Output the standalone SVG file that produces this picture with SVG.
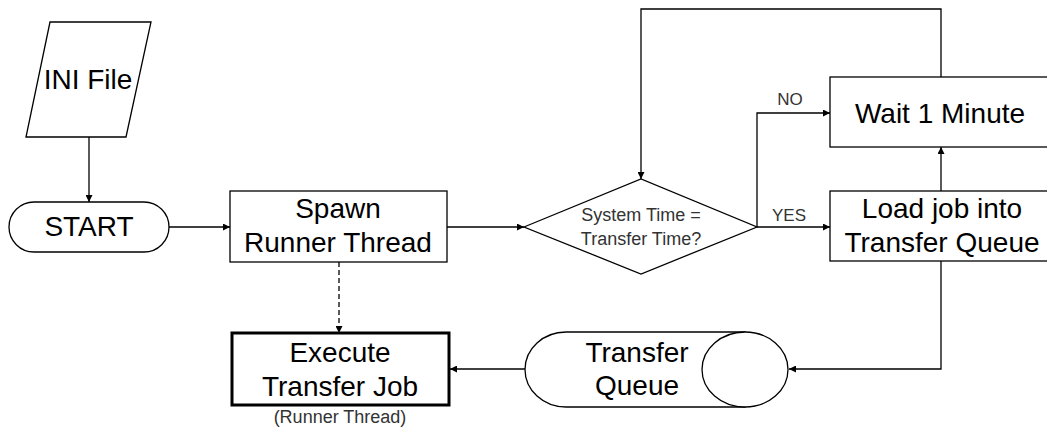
<svg xmlns="http://www.w3.org/2000/svg" width="1047" height="434" viewBox="0 0 1047 434">
<defs>
<marker id="ah" viewBox="0 0 10 10" refX="10" refY="5" markerWidth="9" markerHeight="7" markerUnits="userSpaceOnUse" orient="auto">
<path d="M0,0 L10,5 L0,10 Z" fill="#000"/>
</marker>
</defs>
<style>
.shape{fill:#fff;stroke:#000;stroke-width:1.3}
.big{font-family:"Liberation Sans",Arial,sans-serif;font-size:28px;fill:#000;text-anchor:middle}
.small{font-family:"Liberation Sans",Arial,sans-serif;font-size:18px;fill:#333;text-anchor:middle}
.lbl{font-family:"Liberation Sans",Arial,sans-serif;font-size:17px;fill:#333;text-anchor:middle}
.conn{fill:none;stroke:#000;stroke-width:1.3;marker-end:url(#ah)}
</style>
<rect width="1047" height="434" fill="#fff"/>
<g id="connectors">
<path class="conn" d="M89,137 V202"/>
<path class="conn" d="M169,227 H230"/>
<path class="conn" d="M447,227 H524"/>
<path class="conn" stroke-dasharray="5,3" d="M339,262 V333"/>
<path class="conn" d="M757,227 H830"/>
<path class="conn" d="M757,227 V113 H830"/>
<path class="conn" d="M941,77 V9 H641 V179"/>
<path class="conn" d="M941,191 V147"/>
<path class="conn" d="M941,261 V369 H789"/>
<path class="conn" d="M525,369 H450"/>
<text class="lbl" x="790" y="105">NO</text>
<text class="lbl" x="789" y="221">YES</text>
</g>
<g id="ini">
<polygon class="shape" points="50,22 151,22 126,137 26,137"/>
<text class="big" x="88" y="89">INI File</text>
</g>
<g id="start">
<rect class="shape" x="9" y="202" width="160" height="50" rx="25" ry="25"/>
<text class="big" x="89" y="236">START</text>
</g>
<g id="spawn">
<rect class="shape" x="230" y="191" width="217" height="71"/>
<text class="big" x="338" y="218">Spawn</text>
<text class="big" x="338" y="252">Runner Thread</text>
</g>
<g id="decision">
<polygon class="shape" points="524,227 641,179 757,227 641,274"/>
<text class="small" x="641" y="221">System Time =</text>
<text class="small" x="641" y="245">Transfer Time?</text>
</g>
<g id="wait">
<rect class="shape" x="830" y="77" width="220" height="70"/>
<text class="big" x="940" y="123">Wait 1 Minute</text>
</g>
<g id="load">
<rect class="shape" x="830" y="191" width="220" height="70"/>
<text class="big" x="942" y="218">Load job into</text>
<text class="big" x="942" y="252">Transfer Queue</text>
</g>
<g id="queue">
<path class="shape" d="M745,332 H566 A41,37.5 0 0 0 566,407 H745 Z"/>
<ellipse class="shape" cx="745" cy="369.5" rx="43" ry="37.5"/>
<text class="big" x="637" y="362">Transfer</text>
<text class="big" x="637" y="395">Queue</text>
</g>
<g id="execute">
<rect class="shape" style="stroke-width:3" x="232" y="333" width="217" height="72"/>
<text class="big" x="340" y="362">Execute</text>
<text class="big" x="340" y="396">Transfer Job</text>
<text class="small" x="340" y="423">(Runner Thread)</text>
</g>
</svg>
